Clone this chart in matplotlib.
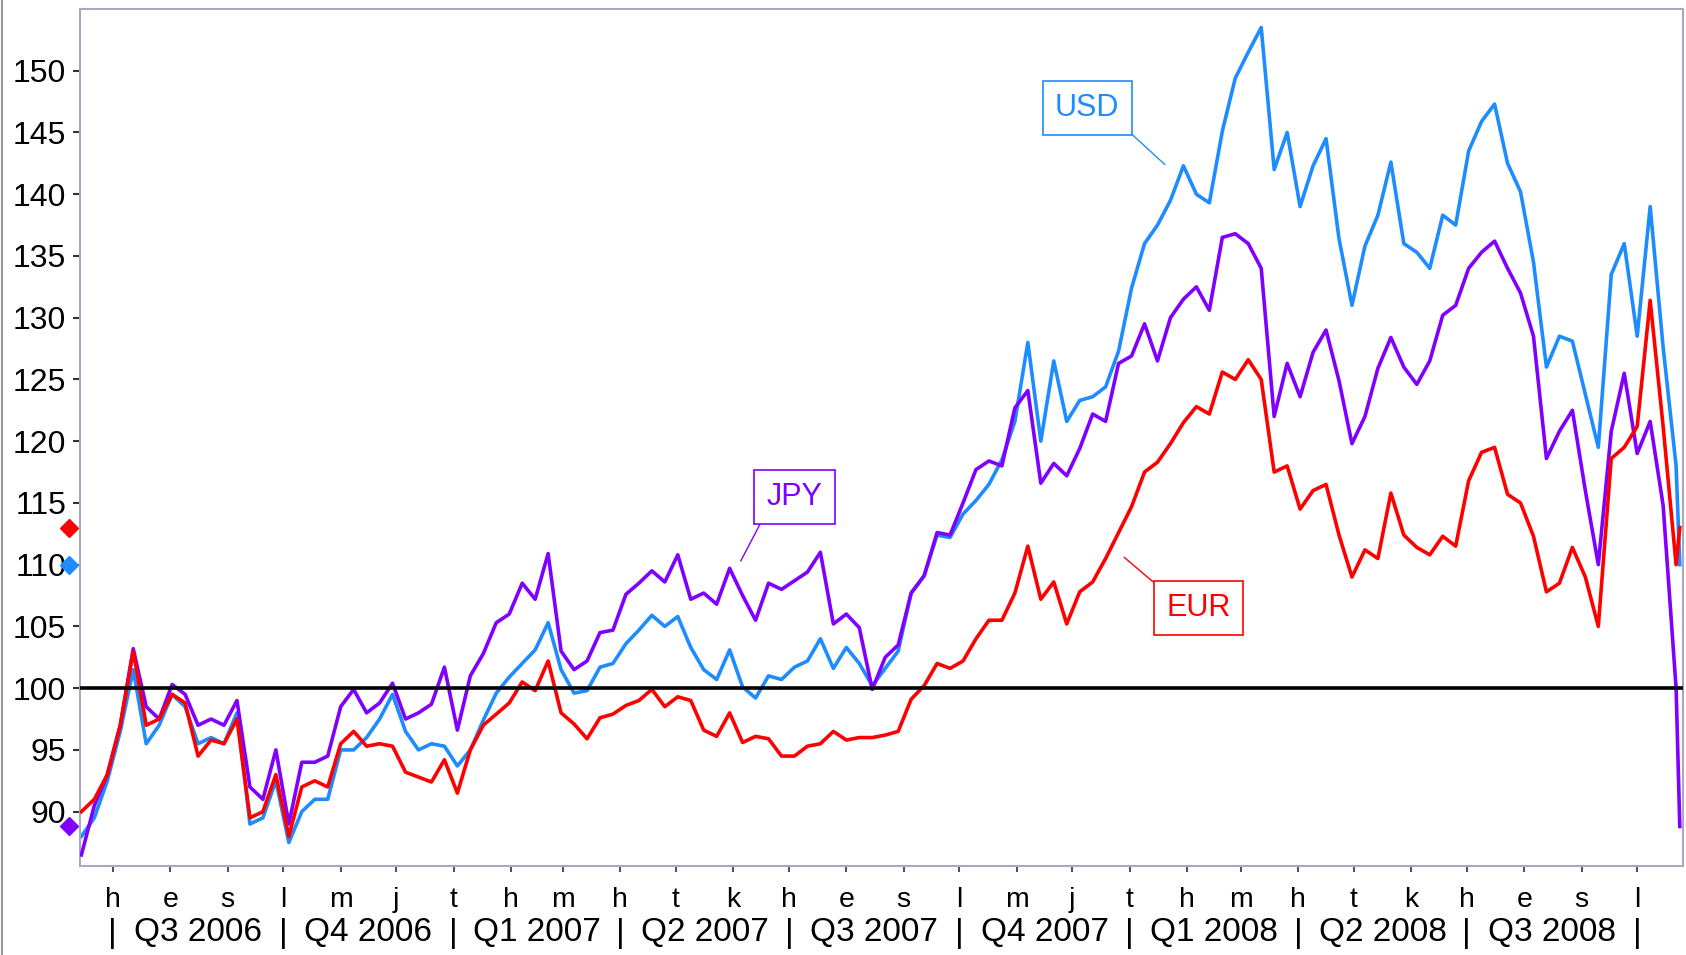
import numpy as np
import pandas as pd
import matplotlib
matplotlib.use("Agg")
import matplotlib.pyplot as plt
import matplotlib.dates as mdates
from matplotlib.lines import Line2D

plt.rcParams['font.family'] = ['Liberation Sans', 'DejaVu Sans']

# weekly readings, last point is the final day shown
dates = pd.date_range('2006-06-14', periods=124, freq='7D').append(pd.DatetimeIndex(['2008-10-24']))

usd = [88.0, 89.5, 92.5, 96.5, 101.5, 95.5, 97.0, 99.5, 98.5, 95.5,
       96.0, 95.5, 98.0, 89.0, 89.5, 92.5, 87.5, 90.0, 91.0, 91.0,
       95.0, 95.0, 96.0, 97.5, 99.5, 96.5, 95.0, 95.5, 95.3, 93.7,
       95.0, 97.4, 99.6, 100.9, 102.0, 103.1, 105.3, 101.5, 99.6, 99.8,
       101.7, 102.0, 103.6, 104.7, 105.9, 105.0, 105.8, 103.3, 101.5, 100.7,
       103.1, 100.1, 99.2, 101.0, 100.7, 101.7, 102.2, 104.0, 101.6, 103.3,
       102.0, 100.2, 101.6, 103.0, 107.7, 109.1, 112.4, 112.2, 114.1, 115.2,
       116.5, 118.5, 121.6, 128.0, 120.0, 126.5, 121.6, 123.3, 123.6, 124.4,
       127.3, 132.4, 136.0, 137.5, 139.5, 142.3, 140.0, 139.3, 145.1, 149.4,
       151.5, 153.5, 142.0, 145.0, 139.0, 142.3, 144.5, 136.4, 131.0, 135.8,
       138.3, 142.6, 136.0, 135.3, 134.0, 138.3, 137.5, 143.5, 145.9, 147.3,
       142.5, 140.2, 134.5, 126.0, 128.5, 128.1, 123.8, 119.5, 133.5, 136.0,
       128.5, 139.0, 127.6, 118.0, 110.0]

jpy = [86.5, 90.5, 93.0, 97.0, 103.2, 98.5, 97.5, 100.3, 99.5, 97.0,
       97.5, 97.0, 99.0, 92.0, 91.0, 95.0, 89.0, 94.0, 94.0, 94.5,
       98.5, 99.9, 98.0, 98.8, 100.4, 97.5, 98.0, 98.7, 101.7, 96.6,
       101.0, 102.8, 105.3, 106.0, 108.5, 107.2, 110.9, 103.0, 101.5, 102.2,
       104.5, 104.7, 107.6, 108.5, 109.5, 108.6, 110.8, 107.2, 107.7, 106.8,
       109.7, 107.5, 105.5, 108.5, 108.0, 108.7, 109.4, 111.0, 105.2, 106.0,
       104.9, 99.9, 102.5, 103.5, 107.7, 109.1, 112.6, 112.4, 115.0, 117.7,
       118.4, 118.0, 122.7, 124.1, 116.6, 118.2, 117.2, 119.4, 122.2, 121.6,
       126.3, 126.9, 129.5, 126.5, 130.0, 131.5, 132.5, 130.6, 136.5, 136.8,
       136.0, 134.0, 122.0, 126.3, 123.6, 127.2, 129.0, 124.9, 119.8, 122.0,
       125.9, 128.4, 126.0, 124.6, 126.5, 130.2, 131.0, 134.0, 135.3, 136.2,
       134.0, 132.0, 128.5, 118.6, 120.8, 122.5, 116.0, 110.0, 120.8, 125.5,
       119.0, 121.6, 114.8, 100.0, 88.8]

eur = [90.0, 91.0, 93.0, 97.0, 103.0, 97.0, 97.5, 99.5, 98.8, 94.5,
       95.8, 95.5, 97.5, 89.5, 90.0, 93.0, 88.0, 92.0, 92.5, 92.0,
       95.5, 96.5, 95.3, 95.5, 95.3, 93.2, 92.8, 92.4, 94.2, 91.5,
       95.0, 97.0, 97.9, 98.8, 100.5, 99.8, 102.2, 98.0, 97.1, 95.9,
       97.6, 97.9, 98.6, 99.0, 99.9, 98.5, 99.3, 99.0, 96.6, 96.1,
       98.0, 95.6, 96.1, 95.9, 94.5, 94.5, 95.3, 95.5, 96.5, 95.8,
       96.0, 96.0, 96.2, 96.5, 99.1, 100.2, 102.0, 101.6, 102.2, 104.0,
       105.5, 105.5, 107.7, 111.5, 107.2, 108.6, 105.2, 107.8, 108.6, 110.5,
       112.6, 114.7, 117.5, 118.3, 119.8, 121.5, 122.8, 122.2, 125.6, 125.0,
       126.6, 125.0, 117.5, 118.0, 114.5, 116.0, 116.5, 112.4, 109.0, 111.2,
       110.5, 115.8, 112.4, 111.4, 110.8, 112.3, 111.5, 116.8, 119.1, 119.5,
       115.7, 115.0, 112.3, 107.8, 108.5, 111.4, 109.0, 105.0, 118.6, 119.5,
       121.2, 131.4, 121.2, 110.0, 113.0]

# Finnish month initials
month_names = ['tammikuu', 'helmikuu', 'maaliskuu', 'huhtikuu', 'toukokuu', 'kesäkuu',
               'heinäkuu', 'elokuu', 'syyskuu', 'lokakuu', 'marraskuu', 'joulukuu']

c_usd = '#1E8CFF'
c_jpy = '#8000FF'
c_eur = '#FF0000'

fig = plt.figure(figsize=(16.86, 9.55), dpi=100)
ax = fig.add_axes([0.0474, 0.0932, 0.9508, 0.8974])

ax.plot(dates, usd, color=c_usd, lw=2.6, zorder=2)
ax.plot(dates, jpy, color=c_jpy, lw=2.6, zorder=3)
ax.plot(dates, eur, color=c_eur, lw=2.6, zorder=4)
ax.axhline(100, color='black', lw=2.6, zorder=5)

ax.set_xlim(pd.Timestamp('2006-06-13 05:00'), pd.Timestamp('2008-10-25 17:00'))
ax.set_ylim(85.6, 155.0)
ax.set_yticks(np.arange(90, 151, 5))

months = pd.date_range('2006-07-01', '2008-10-01', freq='MS')
ax.set_xticks(months)
ax.set_xticklabels([month_names[m.month - 1][0] for m in months])

ax.tick_params(axis='y', labelsize=23, length=5, width=1.5, pad=5, color='#333333')
ax.tick_params(axis='x', labelsize=20.5, length=4, width=1.5, pad=11, color='#555555')

for s in ax.spines.values():
    s.set_color('#A8A8C0')
    s.set_linewidth(1.5)

# quarter row
quarters = pd.date_range('2006-07-01', '2008-10-01', freq='QS-JAN')
trans = ax.get_xaxis_transform()
for q in quarters:
    ax.text(q, -0.079, '|', transform=trans, ha='center', va='center', fontsize=24)
for q0, q1 in zip(quarters[:-1], quarters[1:]):
    mid = q0 + (q1 - q0) / 2
    ax.text(mid, -0.078, f'Q{(q0.month - 1) // 3 + 1} {q0.year}', transform=trans,
            ha='center', va='center', fontsize=24)

# last-value markers at the axis
ytrans = ax.get_yaxis_transform()
for val, col in [(eur[-1], c_eur), (usd[-1], c_usd), (jpy[-1], c_jpy)]:
    ax.plot([-0.0065], [val], marker='D', ms=9, color=col, transform=ytrans, clip_on=False, zorder=6)


def tag(text, color, xy, xytext, relpos):
    ax.annotate(text, xy=(pd.Timestamp(xy[0]), xy[1]), xytext=(pd.Timestamp(xytext[0]), xytext[1]),
                color=color, fontsize=22, ha='center', va='center', zorder=7,
                bbox=dict(boxstyle='square,pad=0.4', fc='white', ec=color, lw=1.2),
                arrowprops=dict(arrowstyle='-', color=color, lw=1.0, relpos=relpos,
                                shrinkA=0, shrinkB=0))


tag('USD', c_usd, ('2008-01-20', 142.4), ('2007-12-09', 147.0), (1, 0))
tag('JPY', c_jpy, ('2007-06-05', 110.3), ('2007-07-04', 115.5), (0, 0))
tag('EUR', c_eur, ('2007-12-29', 110.6), ('2008-02-07', 106.5), (0, 1))

fig.add_artist(Line2D([0.001, 0.001], [0, 1], color='#999999', lw=1.5, transform=fig.transFigure))

fig.savefig('out.png', dpi=100)
